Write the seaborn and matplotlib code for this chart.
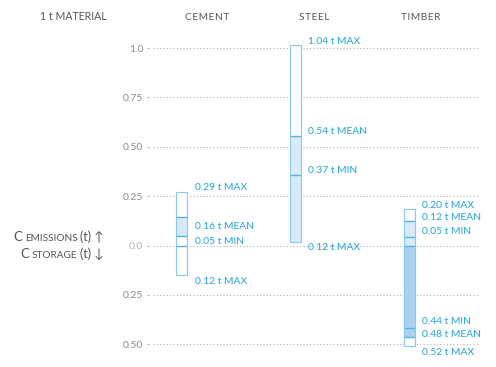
import matplotlib
matplotlib.use("Agg")
import matplotlib.pyplot as plt
import seaborn as sns
from matplotlib.offsetbox import TextArea, HPacker, AnnotationBbox

# carbon per 1 t of material, drawn positions (storage is negative)
materials = ["CEMENT", "STEEL", "TIMBER"]
box_low = [-0.15, 0.02, -0.508]
box_high = [0.27, 1.015, 0.186]

# shaded pieces inside the boxes
shade_material = [0, 1, 2, 2]
shade_low = [0.05, 0.02, 0.0, -0.465]
shade_high = [0.145, 0.555, 0.122, 0.0]
shade_tone = ["light", "light", "light", "mid"]

# mean / min marker lines
line_material = [0, 0, 0, 1, 1, 2, 2, 2, 2, 2]
line_value = [0.145, 0.05, 0.0, 0.555, 0.355, 0.122, 0.042, 0.0, -0.415, -0.465]

# value labels
label_material = [0, 0, 0, 0, 1, 1, 1, 1, 2, 2, 2, 2, 2, 2]
label_text = ["0.29 t MAX", "0.16 t MEAN", "0.05 t MIN", "0.12 t MAX",
              "1.04 t MAX", "0.54 t MEAN", "0.37 t MIN", "0.12 t MAX",
              "0.20 t MAX", "0.12 t MEAN", "0.05 t MIN",
              "0.44 t MIN", "0.48 t MEAN", "0.52 t MAX"]
label_y = [0.296, 0.094, 0.023, -0.18,
           1.035, 0.58, 0.382, -0.008,
           0.205, 0.144, 0.073, -0.382, -0.448, -0.539]

y_ticks = [1.0, 0.75, 0.5, 0.25, 0.0, -0.25, -0.5]
y_ticklabels = ["1.0", "0.75", "0.50", "0.25", "0.0", "0.25", "0.50"]

EDGE = "#86c8ef"
LINE = "#56b2e6"
BLUE = "#22a3df"
TONES = {"light": "#d8eafa", "mid": "#a9d3f4"}

sns.set_theme(style="white")
plt.rcParams["font.family"] = ["Lato", "DejaVu Sans"]

W, H = 496, 367
fig = plt.figure(figsize=(W / 100, H / 100), dpi=100)
ax = fig.add_axes([149 / W, 1 - 355 / H, 331 / W, 320 / H])

pos = list(range(len(materials)))
bar_w = 0.097

# grid
for t in y_ticks:
    ax.axhline(t, xmin=0.012, xmax=1, color="#b3b3b3", lw=0.8,
               ls=(0, (1, 2)), zorder=1)

# white boxes
ax.bar(pos, [h - l for h, l in zip(box_high, box_low)], bottom=box_low,
       width=bar_w, color="white", edgecolor="none", zorder=2)
# shading
ax.bar([pos[m] for m in shade_material],
       [h - l for h, l in zip(shade_high, shade_low)], bottom=shade_low,
       width=bar_w, color=[TONES[s] for s in shade_tone], edgecolor="none",
       zorder=3)
# marker lines
ax.hlines(line_value, [pos[m] - bar_w / 2 for m in line_material],
          [pos[m] + bar_w / 2 for m in line_material], color=LINE, lw=1.0,
          zorder=4)
# outlines
ax.bar(pos, [h - l for h, l in zip(box_high, box_low)], bottom=box_low,
       width=bar_w, fill=False, edgecolor=EDGE, linewidth=0.8, zorder=5)

for m, txt, y in zip(label_material, label_text, label_y):
    ax.annotate(txt, xy=(pos[m] + bar_w / 2, y), xytext=(5.5, 0),
                textcoords="offset points", ha="left", va="center",
                fontsize=7.4, color=BLUE)

ax.set_xlim(-0.286, 2.624)
ax.set_ylim(-0.554, 1.066)
ax.set_xticks([])
ax.set_yticks(y_ticks)
ax.set_yticklabels(y_ticklabels)
ax.tick_params(axis="y", left=True, length=1.5, width=0.8, color="#b3b3b3",
               pad=2.5, labelsize=7.5, labelcolor="#8a8a8a")
ax.get_yticklabels()[4].set_color("#b5b5b5")
for s in ax.spines.values():
    s.set_visible(False)

# column headers (letter-spaced caps)
header_x = [207, 314, 421]
for name, hx in zip(materials, header_x):
    fig.text(hx / W, 1 - 17 / H, "\u200a".join(name), ha="center",
             va="center", fontsize=7.3, color="#555555")
fig.text(73.5 / W, 1 - 17 / H, "1 t MATERIAL", ha="center", va="center",
         fontsize=7.6, color="#555555")

# small-caps axis notes
for word, arrow, py in [("EMISSIONS", "↑", 237), ("STORAGE", "↓", 254)]:
    parts = [TextArea("C", textprops=dict(fontsize=9.5, color="#555555")),
             TextArea(word, textprops=dict(fontsize=7.2, color="#555555")),
             TextArea("(t) " + arrow, textprops=dict(fontsize=9, color="#555555"))]
    pack = HPacker(children=parts, align="baseline", pad=0, sep=2)
    ab = AnnotationBbox(pack, (104, H - py), xycoords="figure pixels",
                        box_alignment=(1, 0.5), frameon=False, pad=0)
    fig.add_artist(ab)

fig.savefig("out.png", dpi=100)
